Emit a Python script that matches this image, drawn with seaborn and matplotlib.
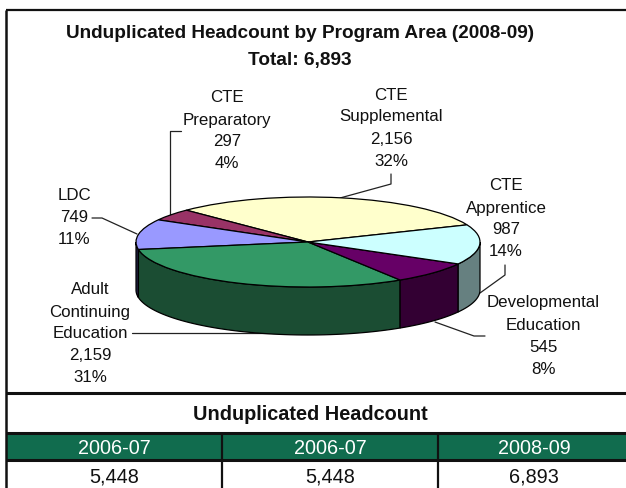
#!/usr/bin/env python3
import numpy as np
import matplotlib
matplotlib.use("Agg")
import matplotlib.pyplot as plt
import seaborn as sns

title = "Unduplicated Headcount by Program Area (2008-09)"
subtitle = "Total: 6,893"
table_title = "Unduplicated Headcount"

# pie, counter clockwise from the right side of the yellow slice
areas = ["CTE\nSupplemental", "CTE\nPreparatory", "LDC", "Adult\nContinuing\nEducation",
         "Developmental\nEducation", "CTE\nApprentice"]
counts = [2156, 297, 749, 2159, 545, 987]
percents = ["32%", "4%", "11%", "31%", "8%", "14%"]
top_colors = ["#ffffcc", "#993366", "#9999ff", "#339966", "#660066", "#ccffff"]
side_colors = ["#808066", "#4d1933", "#262650", "#1b4d33", "#330033", "#668080"]

table_years = ["2006-07", "2006-07", "2008-09"]
table_values = ["5,448", "5,448", "6,893"]

W, H = 626, 488
START = 22.4
DEPTH = 48 / 45  # wall height in pie radius units
label_xy = [(391, 95), (227, 98), (74, 196), (90, 290), (543, 303), (506, 186)]
leaders = [
    [(391, 174), (391, 184), (340, 198)],
    [(181, 131), (170, 131), (170, 215)],
    [(92, 218), (102, 218), (137, 234)],
    [(132, 333), (300, 333)],
    [(485, 336), (474, 336), (435, 322)],
    [(505, 265), (505, 275), (480, 293)],
]

sns.set_theme(style="white")
plt.rcParams["font.family"] = ["Liberation Sans", "DejaVu Sans"]
TEXT = "#111111"

fig = plt.figure(figsize=(W / 100, H / 100), dpi=100)
bg = fig.add_axes([0, 0, 1, 1])
bg.set_xlim(0, W)
bg.set_ylim(H, 0)
bg.axis("off")

# frame and table grid
for xs, ys, lw in [((6, W), (10, 10), 1.6), ((6, 6), (10, H), 1.8), ((6, W), (393, 393), 2.2),
                   ((6, W), (433, 433), 2.2), ((6, W), (460, 460), 2.2),
                   ((222, 222), (433, H), 1.6), ((438, 438), (433, H), 1.6)]:
    bg.plot(xs, ys, color="#111111", lw=lw, solid_capstyle="butt", zorder=3)
bg.fill_between([7, W], 434, 459, color="#116c4e", lw=0, zorder=1)

bg.text(300, 34, title, ha="center", va="center", fontsize=13.7, fontweight="bold", color=TEXT)
bg.text(300, 60, subtitle, ha="center", va="center", fontsize=13.7, fontweight="bold", color=TEXT)
bg.text(310, 415, table_title, ha="center", va="center", fontsize=14.3, fontweight="bold", color=TEXT)
for cx, year, val in zip([114, 330, 534], table_years, table_values):
    bg.text(cx, 448, year, ha="center", va="center", fontsize=14.3, color="white")
    bg.text(cx, 477, val, ha="center", va="center", fontsize=14.3, color=TEXT)

# pie axes squashed into an ellipse, wall hangs below it
pie_ax = fig.add_axes([136 / W, 1 - 287 / H, 344 / W, 90 / H])
edges = START + np.cumsum([0] + counts) / sum(counts) * 360
for a0, a1, c in zip(edges[:-1], edges[1:], side_colors):
    # only the part of a slice on the front half of the rim shows a wall
    lo, hi = max(a0, 180), min(a1, 360)
    if lo >= hi:
        continue
    t = np.radians(np.linspace(lo, hi, 60))
    px = np.cos(t)
    py = np.sin(t)
    pie_ax.fill(np.r_[px, px[::-1]], np.r_[py, py[::-1] - DEPTH], facecolor=c,
                edgecolor="black", lw=0.9, clip_on=False, zorder=1)
pie_ax.pie(counts, colors=top_colors, startangle=START, counterclock=True, radius=1,
           wedgeprops={"edgecolor": "black", "linewidth": 0.9, "clip_on": False, "zorder": 2})
pie_ax.set_aspect("auto")
pie_ax.set_xlim(-1, 1)
pie_ax.set_ylim(-1, 1)
pie_ax.axis("off")
pie_ax.patch.set_alpha(0)

# labels and leader lines
for name, n, pct, (x, y), pts in zip(areas, counts, percents, label_xy, leaders):
    lines = name.split("\n") + [f"{n:,}", pct]
    for i, line in enumerate(lines):
        bg.text(x, y + i * 22, line, ha="center", va="center", fontsize=12.2, color=TEXT)
    lx, ly = zip(*pts)
    bg.plot(lx, ly, color="#222222", lw=0.9, zorder=4)

fig.savefig("out.png", dpi=100)
